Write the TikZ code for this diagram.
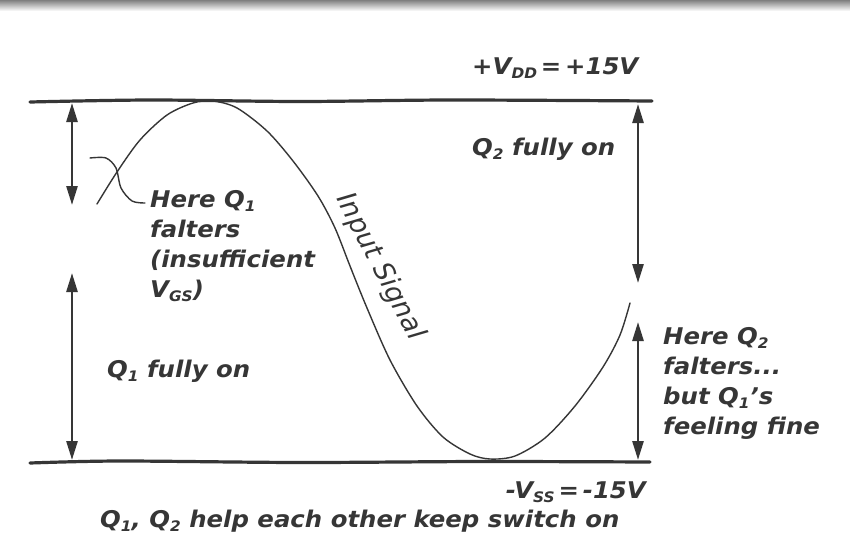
\documentclass[tikz,border=0pt]{standalone}
\usepackage{fontspec}
\setmainfont{DejaVu Sans}
\newfontfamily\hand{DejaVu Sans}[FakeStretch=1.06, Ligatures=TeX]
\usetikzlibrary{arrows.meta}
\definecolor{ink}{HTML}{363636}
\newcommand\sbs[1]{\raisebox{-0.35ex}{\fontsize{14.5}{14.5}\selectfont #1}}
\begin{document}
\begin{tikzpicture}[x=1pt,y=-1pt,
  lbl/.style={text=ink, font=\hand\fontsize{23}{30}\selectfont\bfseries\itshape, inner sep=0pt},
  rail/.style={draw=ink, line width=3.2pt, line cap=round},
  span/.style={draw=ink, line width=2.6pt, {Triangle[width=11pt,length=19pt]}-{Triangle[width=11pt,length=19pt]}},
  wave/.style={draw=ink, line width=1.4pt, line cap=round}]
\useasboundingbox[fill=white] (0,0) rectangle (850,557);
\shade[top color=black!50, bottom color=white] (0,0) rectangle (850,11);
% rails
\draw[rail] plot[smooth] coordinates {(30,102) (150,100) (300,101.5) (450,100) (652,101)};
\draw[rail] plot[smooth] coordinates {(30,463) (120,461) (300,462.5) (480,461.5) (650,462)};
% input signal
\draw[wave] plot[smooth] coordinates {(97,204) (117,172) (140,140) (167,115) (193,103) (213,101) (237,108) (267,131) (293,161) (318,196) (335,228) (350,266) (367,308) (390,360) (417,406) (443,437) (470,454) (490,459) (515,456) (545,438) (575,406) (603,367) (620,335) (630,303)};
% leader
\draw[wave] plot[smooth] coordinates {(90,158) (106,158) (116,168) (121,188) (132,201) (145,203)};
% arrows
\coordinate (a1t) at (72,103); \coordinate (a1b) at (72,205);
\coordinate (a2t) at (72,273); \coordinate (a2b) at (72,460);
\coordinate (a3t) at (638,104); \coordinate (a3b) at (638,283);
\coordinate (a4t) at (638,322); \coordinate (a4b) at (638,460);
\draw[span] (a1t) -- (a1b);
\draw[span] (a2t) -- (a2b);
\draw[span] (a3t) -- (a3b);
\draw[span] (a4t) -- (a4b);
% labels
\node[lbl, anchor=base west] (vdd) at (472,74) {+V\sbs{DD}\,=\,+15V};
\node[lbl, anchor=base east] (vss) at (646,498) {-V\sbs{SS}\,=\,-15V};
\node[lbl, anchor=base west] (cap) at (100,527) {Q\sbs{1}, Q\sbs{2} help each other keep switch on};
\node[lbl, anchor=base west] (q2on) at (472,155) {Q\sbs{2} fully on};
\node[lbl, anchor=base west] (q1on) at (107,377) {Q\sbs{1} fully on};
\node[lbl, anchor=north west, align=left] (q1f) at (150,190) {Here Q\sbs{1}\\falters\\(insufficient\\V\sbs{GS})};
\node[lbl, anchor=north west, align=left] (q2f) at (663,327) {Here Q\sbs{2}\\falters...\\but Q\sbs{1}’s\\feeling fine};
\node[lbl, font=\fontsize{27}{30}\selectfont\itshape, rotate=-62.5] (sig) at (380,267) {Input Signal};
\end{tikzpicture}
\end{document}
